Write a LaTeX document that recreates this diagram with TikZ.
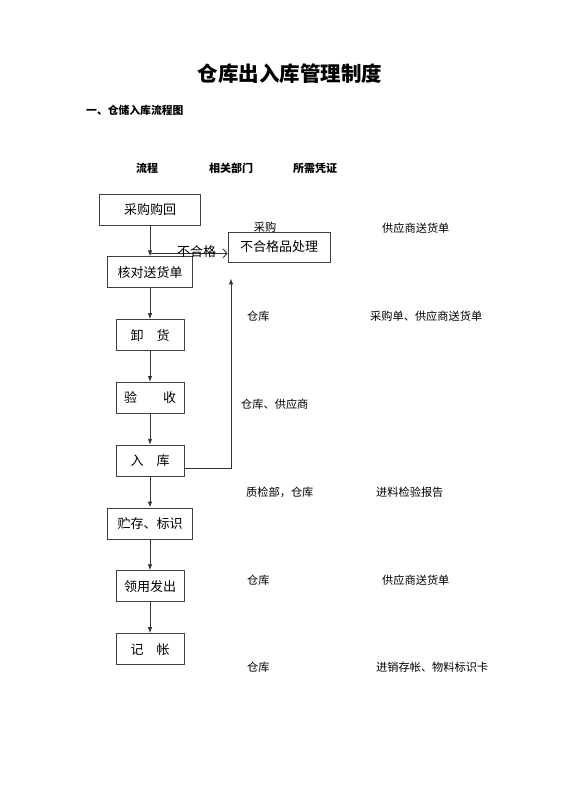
\documentclass[tikz,border=0pt]{standalone}
\usepackage{fontspec}
\setmainfont{Noto Sans CJK SC}
\usetikzlibrary{positioning,arrows.meta}

\begin{document}
\begin{tikzpicture}[x=1pt,y=1pt,
    step box/.style={draw=black!75, line width=0.8pt, minimum height=31pt, inner sep=2pt, font=\fontsize{13}{15}\selectfont},
    dept/.style={anchor=west, inner sep=0pt, font=\fontsize{11.2}{13}\selectfont},
    head/.style={inner sep=0pt, font=\fontsize{11}{13}\selectfont\bfseries},
    flow/.style={draw=black!80, line width=0.9pt, -{Latex[length=6pt,width=4.5pt]}},
    barb/.style={draw=black!80, line width=0.9pt, -{Straight Barb[length=4pt,width=9pt]}}
]
    \useasboundingbox (0,0) rectangle (560,-792);

    % titles
    \node[inner sep=0pt, font=\fontsize{20.5}{24}\selectfont\bfseries] (title) at (290,-74) {仓库出入库管理制度};
    \node[anchor=west, inner sep=0pt, font=\fontsize{10.8}{12}\selectfont\bfseries] (sect) at (86,-110) {一、仓储入库流程图};
    \node[head] (hflow) at (147,-168) {流程};
    \node[head] (hdept) at (231,-168) {相关部门};
    \node[head] (hdoc) at (315,-168) {所需凭证};

    % flow steps
    \node[step box, minimum width=101pt] (buynode) at (150,-209.5) {采购购回};
    \node[step box, minimum width=85pt, below=31pt of buynode] (checknode) {核对送货单};
    \node[step box, minimum width=68pt, below=31pt of checknode] (unloadnode) {卸\hspace{1em}货};
    \node[step box, minimum width=68pt, below=31pt of unloadnode] (acceptnode) {验\hspace{2em}收};
    \node[step box, minimum width=68pt, below=31pt of acceptnode] (storenode) {入\hspace{1em}库};
    \node[step box, minimum width=85pt, below=31pt of storenode] (marknode) {贮存、标识};
    \node[step box, minimum width=68pt, below=31pt of marknode] (issuenode) {领用发出};
    \node[step box, minimum width=68pt, below=31pt of issuenode] (booknode) {记\hspace{1em}帐};

    \node[step box, minimum width=102pt, minimum height=30pt] (rejnode) at (279,-247) {不合格品处理};

    \draw[flow] (buynode) -- (checknode);
    \draw[flow] (checknode) -- (unloadnode);
    \draw[flow] (unloadnode) -- (acceptnode);
    \draw[flow] (acceptnode) -- (storenode);
    \draw[flow] (storenode) -- (marknode);
    \draw[flow] (marknode) -- (issuenode);
    \draw[flow] (issuenode) -- (booknode);

    \draw[barb] ([yshift=3pt]checknode.north) -- ([yshift=3pt]checknode.north -| rejnode.west)
        node[pos=0.6, yshift=1.5pt, inner sep=0pt, font=\fontsize{13}{15}\selectfont] (rejlabel) {不合格};
    \coordinate (rejin) at ([xshift=-48pt, yshift=-16pt]rejnode.south);
    \draw[flow] ([yshift=-8pt]storenode.east) -| (rejin);

    % departments
    \node[dept, anchor=center] (d1) at (265,-227) {采购};
    \node[dept] (d2) at (247,-316) {仓库};
    \node[dept] (d3) at (241,-404) {仓库、供应商};
    \node[dept] (d4) at (246,-492) {质检部，仓库};
    \node[dept] (d5) at (247,-580) {仓库};
    \node[dept] (d6) at (247,-667) {仓库};

    % documents
    \node[dept] (v1) at (382,-228) {供应商送货单};
    \node[dept] (v2) at (370,-316) {采购单、供应商送货单};
    \node[dept] (v3) at (376,-492) {进料检验报告};
    \node[dept] (v4) at (382,-580) {供应商送货单};
    \node[dept] (v5) at (376,-667) {进销存帐、物料标识卡};
\end{tikzpicture}
\end{document}
